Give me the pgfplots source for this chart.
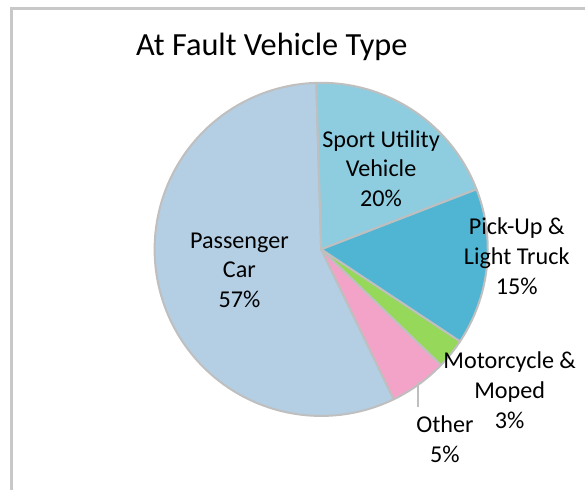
\documentclass[border=0pt]{standalone}
\usepackage{pgfplots}
\usepackage{pgfplotstable}
\pgfplotsset{compat=1.18}
\usepackage{fontspec}
\setmainfont{Carlito}
\definecolor{cCar}{HTML}{B4CFE4}
\definecolor{cSUV}{HTML}{8ECDE0}
\definecolor{cPick}{HTML}{50B5D3}
\definecolor{cMoto}{HTML}{96D85A}
\definecolor{cOther}{HTML}{F4A3C8}
\definecolor{cEdge}{HTML}{BFBFBF}
\definecolor{cFrame}{HTML}{C8C8C8}

\pgfplotstableread{
name   value
SUV    19.6
Pickup 15.2
Moto   2.9
Other  5.6
Car    56.7
}\pietable

\begin{document}%
\begin{tikzpicture}
\pgfplotstablegetelem{0}{value}\of\pietable \let\vA\pgfplotsretval
\pgfplotstablegetelem{1}{value}\of\pietable \let\vB\pgfplotsretval
\pgfplotstablegetelem{2}{value}\of\pietable \let\vC\pgfplotsretval
\pgfplotstablegetelem{3}{value}\of\pietable \let\vD\pgfplotsretval
\pgfmathsetmacro{\aA}{91.7}
\pgfmathsetmacro{\aB}{\aA-3.6*\vA}
\pgfmathsetmacro{\aC}{\aB-3.6*\vB}
\pgfmathsetmacro{\aD}{\aC-3.6*\vC}
\pgfmathsetmacro{\aE}{\aD-3.6*\vD}
\pgfmathsetmacro{\aF}{\aA-360}
\begin{axis}[
  scale only axis, width=586bp, height=491bp,
  xmin=0, xmax=586, ymin=0, ymax=491, y dir=reverse,
  hide axis, clip=false,
  every axis plot/.append style={draw=cEdge, line width=2bp, line join=round},
]
\path (rel axis cs:0,0) rectangle (rel axis cs:1,1);
\draw[cFrame, line width=3bp] (axis cs:11.5,491) -- (axis cs:11.5,8.5) -- (axis cs:586,8.5);
\addplot[fill=cCar, domain=\aF:\aE, samples=120] ({322+167*cos(x)},{250-167*sin(x)}) -- (axis cs:322,250) -- cycle;
\addplot[fill=cSUV, domain=\aB:\aA, samples=50] ({322+167*cos(x)},{250-167*sin(x)}) -- (axis cs:322,250) -- cycle;
\addplot[fill=cPick, domain=\aC:\aB, samples=40] ({322+167*cos(x)},{250-167*sin(x)}) -- (axis cs:322,250) -- cycle;
\addplot[fill=cMoto, domain=\aD:\aC, samples=10] ({322+167*cos(x)},{250-167*sin(x)}) -- (axis cs:322,250) -- cycle;
\addplot[fill=cOther, domain=\aE:\aD, samples=15] ({322+167*cos(x)},{250-167*sin(x)}) -- (axis cs:322,250) -- cycle;
\draw[cEdge, line width=1.5bp] (axis cs:419,383) -- (axis cs:419,408);
\node[anchor=base, font=\fontsize{32.5}{40}\selectfont] at (axis cs:272.5,56) {At Fault Vehicle Type};
\begin{scope}[every node/.style={align=center, font=\fontsize{24.3}{30}\selectfont, inner sep=0pt}]
\node at (axis cs:382,169) {Sport Utility\\Vehicle\\20\%};
\node at (axis cs:518,257) {Pick-Up \&\\Light Truck\\15\%};
\node at (axis cs:511,391) {Motorcycle \&\\Moped\\3\%};
\node at (axis cs:446,440) {Other\\5\%};
\node at (axis cs:240,271) {Passenger\\Car\\57\%};
\end{scope}
\end{axis}
\end{tikzpicture}%
\end{document}
